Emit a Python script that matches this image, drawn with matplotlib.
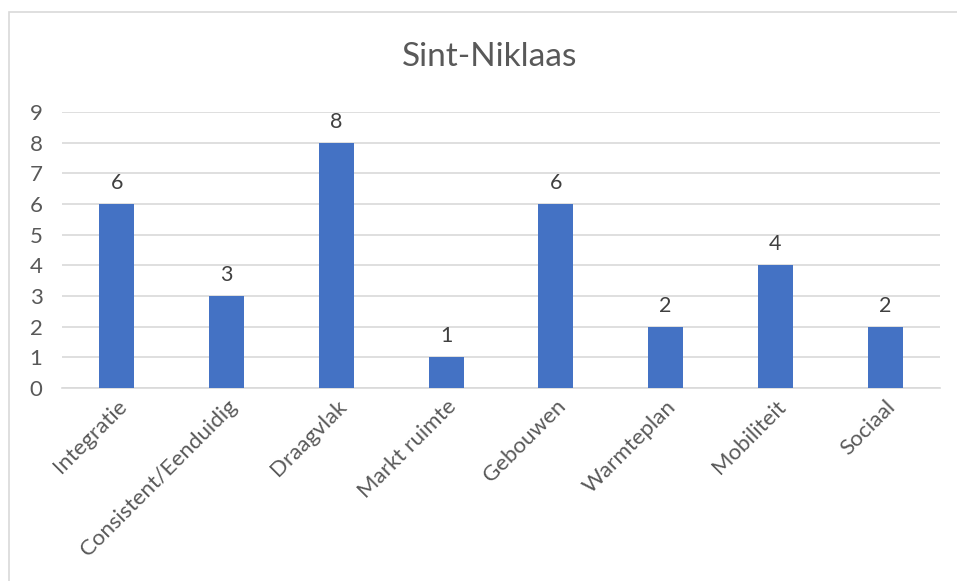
import matplotlib.pyplot as plt
from matplotlib.patches import Rectangle

# data
categorieen = ['Integratie', 'Consistent/Eenduidig', 'Draagvlak', 'Markt ruimte',
               'Gebouwen', 'Warmteplan', 'Mobiliteit', 'Sociaal']
aantallen = [6, 3, 8, 1, 6, 2, 4, 2]
y_ticks = list(range(0, 10))

plt.rcParams['font.family'] = ['Lato', 'DejaVu Sans']
grijs = '#595959'

fig = plt.figure(figsize=(9.57, 5.81), dpi=100)
ax = fig.add_axes([62 / 957, (581 - 388) / 581, (940 - 62) / 957, (388 - 112) / 581])

# kader rond de grafiek
fig.patches.append(Rectangle((9 / 957, -0.1), 1.2, (581 - 12) / 581 + 0.1,
                             transform=fig.transFigure, fill=False,
                             edgecolor='#d9d9d9', linewidth=1.2))

x = range(len(categorieen))
ax.bar(x, aantallen, width=0.32, color='#4472c4', zorder=3)
for xi, v in zip(x, aantallen):
    ax.annotate(str(v), (xi, v), xytext=(0, 8), textcoords='offset points',
                ha='center', va='bottom', fontsize=15.5, color='#404040')

ax.set_xlim(-0.5, len(categorieen) - 0.5)
ax.set_ylim(0, 9)
ax.set_yticks(y_ticks)
ax.yaxis.grid(True, color='#d9d9d9', linewidth=1.2, zorder=0)
ax.set_xticks(list(x))
ax.set_xticklabels(categorieen, rotation=45, ha='right', rotation_mode='anchor')
ax.tick_params(axis='both', length=0, labelsize=16, labelcolor=grijs)
ax.tick_params(axis='y', pad=14)
ax.tick_params(axis='x', pad=6)

for s in ['top', 'right', 'left']:
    ax.spines[s].set_visible(False)
ax.spines['bottom'].set_color('#d9d9d9')
ax.spines['bottom'].set_linewidth(1.2)

fig.text(490 / 957, 1 - 57 / 581, 'Sint-Niklaas', ha='center', va='center',
         fontsize=24, color=grijs)

fig.savefig('out.png', dpi=100)
